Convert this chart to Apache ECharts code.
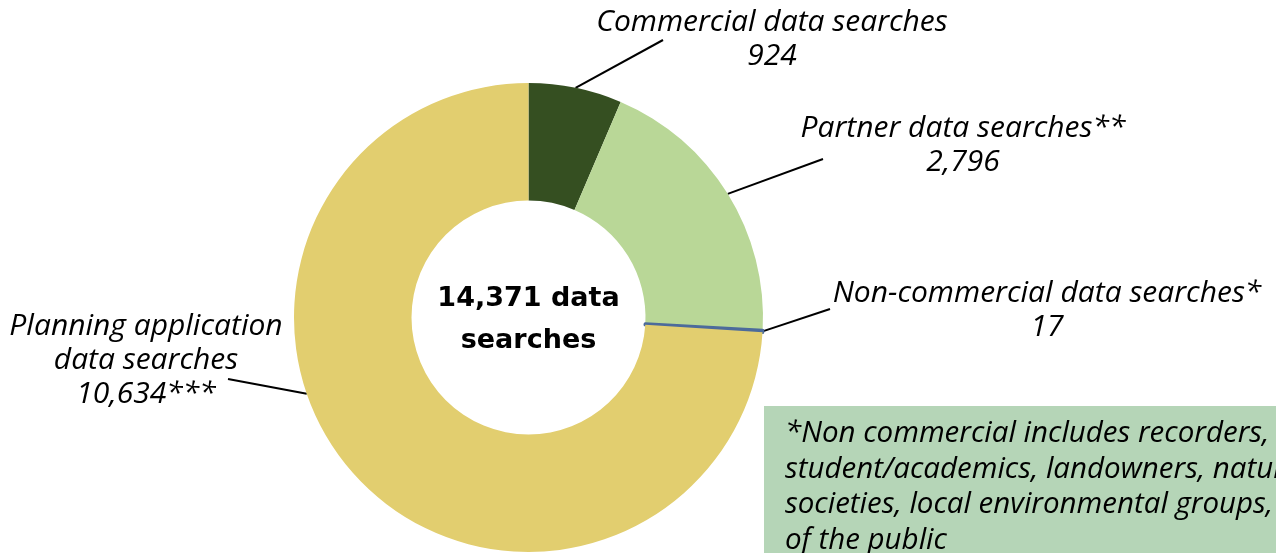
<!DOCTYPE html>
<html>
<head>
<meta charset="utf-8">
<script src="https://cdn.jsdelivr.net/npm/echarts@6/dist/echarts.min.js"></script>
<style>
html,body{margin:0;padding:0;background:#fff;}
#chart{width:1276px;height:553px;}
</style>
</head>
<body>
<div id="chart"></div>
<script>
// ---- data ----
var categories = ['Commercial data searches', 'Partner data searches**', 'Non-commercial data searches*', 'Planning application\ndata searches'];
var values = [924, 2796, 17, 10634];
var valueSuffix = ['', '', '', '***'];
var centerLines = ['14,371 data', 'searches'];
var noteLines = ['*Non commercial includes recorders,', 'student/academics, landowners, natural history', 'societies, local environmental groups, members', 'of the public'];

// ---- layout / style ----
var colors = ['#354f21', '#b9d797', '#4c6b9b', '#e2ce6f'];
var CENTER = [528.5, 317.5];
var R_IN = 117, R_OUT = 234.5;
var labelFont = '"Open Sans", sans-serif';
// label block centre, leader end, optional rim anchor angle (deg clockwise from top)
var labelLayouts = [
  { x: 772, y: 39, end: [663, 40] },
  { x: 963, y: 145, end: [823, 159] },
  { x: 1047, y: 310, end: [830, 309] },
  { x: 146, y: 360, end: [228, 379], anchorDeg: 251 }
];

function fmt(n) { return n.toString().replace(/\B(?=(\d{3})+(?!\d))/g, ','); }

var chart = echarts.init(document.getElementById('chart'), null, { renderer: 'canvas' });

var data = categories.map(function (c, i) {
  var d = { name: c, value: values[i], itemStyle: { color: colors[i] } };
  if (i === 2) { d.itemStyle.borderColor = colors[i]; d.itemStyle.borderWidth = 3.5; }
  return d;
});

chart.setOption({
  animation: false,
  series: [{
    type: 'pie',
    center: CENTER,
    radius: [R_IN, R_OUT],
    startAngle: 90,
    clockwise: true,
    avoidLabelOverlap: false,
    emphasis: { disabled: true },
    itemStyle: { borderWidth: 0 },
    data: data,
    label: {
      show: true,
      position: 'outside',
      formatter: function (p) { return p.name + '\n' + fmt(p.value) + valueSuffix[p.dataIndex]; },
      fontFamily: labelFont,
      fontStyle: 'italic',
      fontSize: 30,
      lineHeight: 34,
      color: '#000',
      align: 'center'
    },
    labelLine: { show: true, lineStyle: { color: '#000', width: 2 }, length: 10, length2: 10 },
    labelLayout: function (params) {
      var L = labelLayouts[params.dataIndex];
      var start;
      if (L.anchorDeg != null) {
        var a = L.anchorDeg * Math.PI / 180;
        start = [CENTER[0] + R_OUT * Math.sin(a), CENTER[1] - R_OUT * Math.cos(a)];
      } else {
        start = params.labelLinePoints[0];
      }
      return {
        x: L.x, y: L.y, align: 'center', verticalAlign: 'middle',
        labelLinePoints: [start, L.end]
      };
    }
  }],
  graphic: [
    {
      type: 'text',
      x: CENTER[0], y: CENTER[1] + 2,
      style: {
        text: centerLines.join('\n'),
        fontFamily: '"DejaVu Sans", sans-serif',
        fontWeight: 'bold',
        fontSize: 27,
        lineHeight: 42,
        fill: '#000',
        align: 'center',
        verticalAlign: 'middle'
      }
    },
    {
      type: 'rect',
      shape: { x: 764, y: 406, width: 600, height: 200 },
      style: { fill: '#b5d5b7' }
    },
    {
      type: 'text',
      x: 785, y: 416,
      style: {
        text: noteLines.join('\n'),
        fontFamily: labelFont,
        fontStyle: 'italic',
        fontSize: 29.5,
        lineHeight: 35.5,
        fill: '#000',
        align: 'left',
        verticalAlign: 'top'
      }
    }
  ]
});
</script>
</body>
</html>
